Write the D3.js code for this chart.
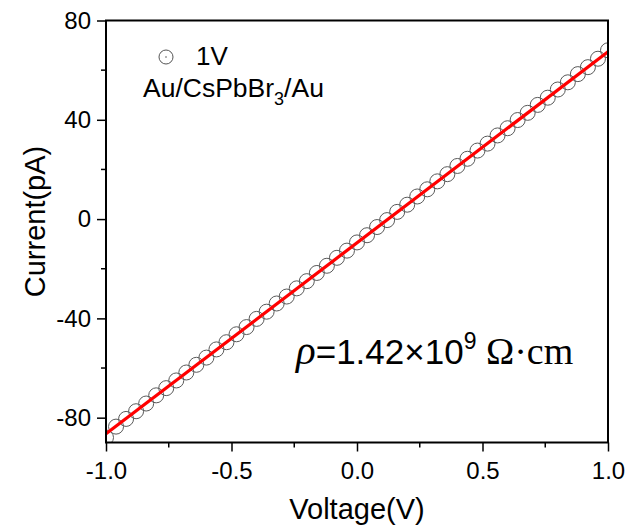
<!DOCTYPE html>
<html>
<head>
<meta charset="utf-8">
<script src="https://cdn.jsdelivr.net/npm/d3@7/dist/d3.min.js"></script>
<style>
  html, body { margin: 0; padding: 0; background: #fff; }
  svg { display: block; }
  text { font-family: "Liberation Sans", Arial, sans-serif; fill: #000; }
</style>
</head>
<body>
<svg id="chart" width="625" height="528"></svg>
<script>
// Measured I–V points of the Au/CsPbBr3/Au device (bias in V, current in pA)
const voltage = [
  -1.00, -0.96, -0.92, -0.88, -0.84, -0.80, -0.76, -0.72, -0.68, -0.64,
  -0.60, -0.56, -0.52, -0.48, -0.44, -0.40, -0.36, -0.32, -0.28, -0.24,
  -0.20, -0.16, -0.12, -0.08, -0.04,  0.00,  0.04,  0.08,  0.12,  0.16,
   0.20,  0.24,  0.28,  0.32,  0.36,  0.40,  0.44,  0.48,  0.52,  0.56,
   0.60,  0.64,  0.68,  0.72,  0.76,  0.80,  0.84,  0.88,  0.92,  0.96,
   1.00
];
const current = [
  -88.0, -83.6, -80.5, -77.4, -74.3, -71.0, -68.1, -65.0, -61.8, -58.7,
  -55.8, -52.5, -49.6, -46.4, -43.5, -40.2, -37.3, -34.0, -31.2, -27.9,
  -25.0, -21.7, -18.8, -15.6, -12.7,  -9.4,  -6.5,  -3.2,  -0.4,   2.9,
    5.8,   9.1,  12.0,  15.2,  18.1,  21.4,  24.3,  27.6,  30.4,  33.7,
   36.6,  39.9,  42.8,  46.0,  48.9,  52.2,  55.1,  58.4,  61.2,  64.6,
   68.0
];
// Linear fit endpoints (V, pA)
const fitV = [-1.0, 1.0];
const fitI = [-86.5, 67.4];

const xTicks = [-1.0, -0.5, 0.0, 0.5, 1.0];
const xMinor = [-0.75, -0.25, 0.25, 0.75];
const yTicks = [-80, -40, 0, 40, 80];
const yMinor = [-60, -20, 20, 60];

const svg = d3.select("#chart");
const m = { left: 106, right: 608, top: 20.5, bottom: 442.5 };

const x = d3.scaleLinear().domain([-1, 1]).range([m.left, m.right]);
const y = d3.scaleLinear().domain([-90, 80]).range([m.bottom, m.top]);

// clip region for data marks
svg.append("defs").append("clipPath").attr("id", "plotClip")
  .append("rect").attr("x", m.left).attr("y", m.top)
  .attr("width", m.right - m.left).attr("height", m.bottom - m.top);

const plot = svg.append("g").attr("clip-path", "url(#plotClip)");

// open circle markers
plot.selectAll("circle.pt")
  .data(voltage.map((v, i) => [v, current[i]]))
  .join("circle")
  .attr("class", "pt")
  .attr("cx", d => x(d[0]))
  .attr("cy", d => y(d[1]))
  .attr("r", 7.5)
  .attr("fill", "none")
  .attr("stroke", "#5a5a5a")
  .attr("stroke-width", 1);

// red fit line
plot.append("line")
  .attr("x1", x(fitV[0])).attr("y1", y(fitI[0]))
  .attr("x2", x(fitV[1])).attr("y2", y(fitI[1]))
  .attr("stroke", "#ff0000")
  .attr("stroke-width", 3.2);

// axes
const xAxis = d3.axisBottom(x).tickValues(xTicks).tickSize(9).tickPadding(9);
const gx = svg.append("g").attr("transform", `translate(0,${m.bottom})`).call(xAxis);
gx.selectAll(".tick line").attr("stroke-width", 1.5);
gx.selectAll("text").attr("font-size", 24).attr("dy", "0.75em")
  .text(d => d3.format(".1f")(d).replace("\u2212", "-"));
gx.select(".domain").remove();
gx.selectAll(".minor").data(xMinor).join("line")
  .attr("x1", d => x(d)).attr("x2", d => x(d))
  .attr("y1", 0).attr("y2", 5).attr("stroke", "#000").attr("stroke-width", 1.5);

const yAxis = d3.axisLeft(y).tickValues(yTicks).tickSize(9).tickPadding(6);
const gy = svg.append("g").attr("transform", `translate(${m.left},0)`).call(yAxis);
gy.selectAll(".tick line").attr("stroke-width", 1.5);
gy.selectAll("text").attr("font-size", 24)
  .text(d => String(d));
gy.select(".domain").remove();
gy.selectAll(".minor").data(yMinor).join("line")
  .attr("x1", 0).attr("x2", -5)
  .attr("y1", d => y(d)).attr("y2", d => y(d)).attr("stroke", "#000").attr("stroke-width", 1.5);

// frame
svg.append("rect")
  .attr("x", m.left).attr("y", m.top)
  .attr("width", m.right - m.left).attr("height", m.bottom - m.top)
  .attr("fill", "none").attr("stroke", "#000").attr("stroke-width", 2);

// axis titles
svg.append("text")
  .attr("x", (m.left + m.right) / 2).attr("y", 519)
  .attr("text-anchor", "middle").attr("font-size", 29)
  .text("Voltage(V)");
svg.append("text")
  .attr("transform", `translate(45,${(m.top + m.bottom) / 2 - 10}) rotate(-90)`)
  .attr("text-anchor", "middle").attr("font-size", 29)
  .text("Current(pA)");

// legend
svg.append("circle").attr("cx", 166).attr("cy", 57).attr("r", 7)
  .attr("fill", "none").attr("stroke", "#555").attr("stroke-width", 1);
svg.append("circle").attr("cx", 166).attr("cy", 57).attr("r", 0.8).attr("fill", "#555");
svg.append("text").attr("x", 196).attr("y", 65).attr("font-size", 26).text("1V");
const lg = svg.append("text").attr("x", 143).attr("y", 97).attr("font-size", 26.5);
lg.append("tspan").text("Au/CsPbBr");
lg.append("tspan").attr("font-size", 18).attr("dy", 8).text("3");
lg.append("tspan").attr("dy", -8).text("/Au");

// resistivity annotation
const ann = svg.append("text").attr("x", 296).attr("y", 364).attr("font-size", 35);
ann.append("tspan").attr("font-family", "'Liberation Serif', 'Times New Roman', serif")
  .attr("font-style", "italic").attr("font-size", 41).text("ρ");
ann.append("tspan").text("=1.42×10");
ann.append("tspan").attr("font-size", 23).attr("dy", -15).text("9");
ann.append("tspan").attr("dy", 15).attr("font-family", "'Liberation Serif', 'Times New Roman', serif")
  .attr("font-size", 38).text(" Ω·cm");
</script>
</body>
</html>
